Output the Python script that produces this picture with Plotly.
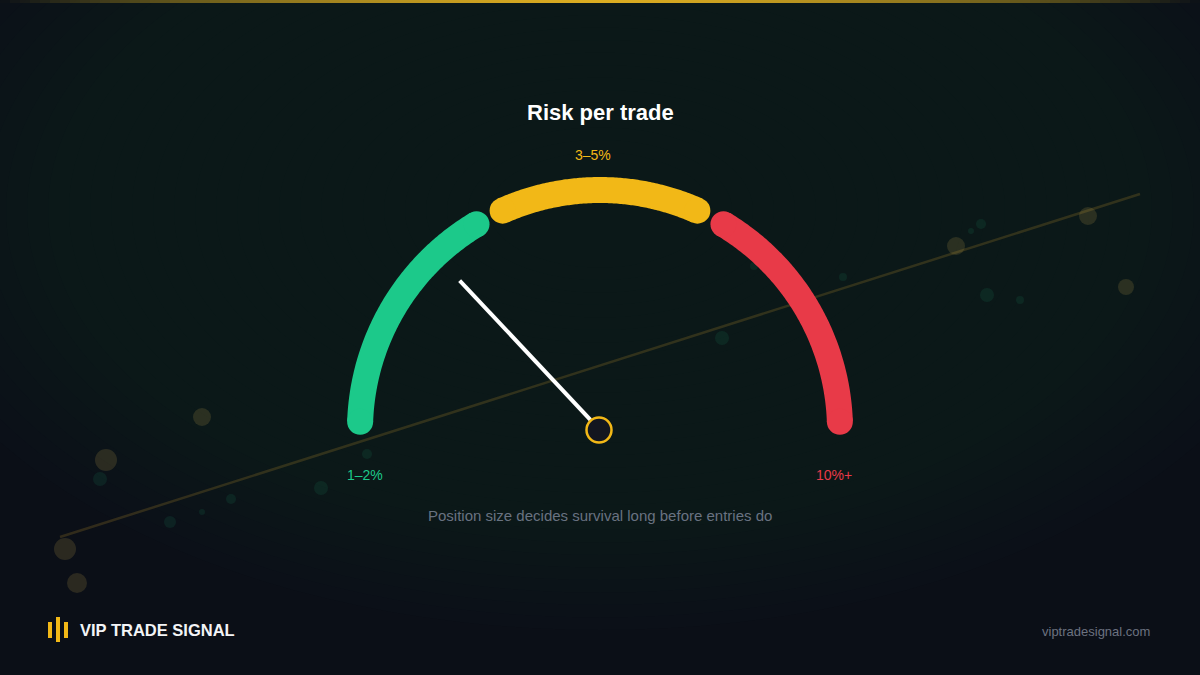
import numpy as np
import plotly.graph_objects as go

# gauge scale 0..100 (left -> right)
segment_labels = ["1–2%", "3–5%", "10%+"]
segment_start = [1.1, 36.7, 67.2]
segment_end = [32.8, 63.3, 98.9]
segment_colors = ["#1cc98a", "#f2b817", "#e83a48"]
needle_value = 26.0

title_text = "Risk per trade"
subtitle_text = "Position size decides survival long before entries do"
brand_text = "VIP TRADE SIGNAL"
url_text = "viptradesignal.com"

# faint decorative background trend + dots
trend_x = [60, 1140]
trend_y = [537, 194]
gold_dot_x = [65, 77, 106, 202, 956, 1088, 1126]
gold_dot_y = [549, 583, 460, 417, 246, 216, 287]
gold_dot_r = [11, 10, 11, 9, 9, 9, 8]
green_dot_x = [100, 170, 202, 231, 321, 367, 722, 754, 843, 971, 981, 987, 1020]
green_dot_y = [479, 522, 512, 499, 488, 454, 338, 266, 277, 231, 224, 295, 300]
green_dot_r = [7, 6, 3, 5, 7, 5, 7, 4, 4, 3, 5, 7, 4]

W, H = 1200, 675
cx, cy, R = 600, 430, 240
arc_w = 26


def to_angle(v):
    return np.radians(180 - v * 1.8)


def arc_xy(v0, v1, r=R, n=120):
    a = np.linspace(to_angle(v0), to_angle(v1), n)
    return cx + r * np.cos(a), cy - r * np.sin(a)


fig = go.Figure()

# background glow
shapes = []
for i in range(30):
    rx = 720 - i * 21
    ry = 420 - i * 12.5
    shapes.append(dict(type="circle", xref="x", yref="y", layer="below",
                       x0=600 - rx, x1=600 + rx, y0=210 - ry, y1=210 + ry,
                       fillcolor="rgba(14,48,38,0.042)", line_width=0))
# top gold rule
for xs in range(0, W, 10):
    d = abs(xs + 5 - W / 2) / (W / 2)
    shapes.append(dict(type="rect", xref="x", yref="y", layer="below",
                       x0=xs, x1=xs + 10, y0=0, y1=3,
                       fillcolor="#e6b422", opacity=max(0.0, 1 - d ** 1.6) * 0.95,
                       line_width=0))

fig.add_trace(go.Scatter(x=trend_x, y=trend_y, mode="lines",
                         line=dict(color="rgba(150,120,40,0.28)", width=2.5),
                         hoverinfo="skip"))
fig.add_trace(go.Scatter(x=gold_dot_x, y=gold_dot_y, mode="markers",
                         marker=dict(size=[r * 2 for r in gold_dot_r],
                                     color="rgba(190,160,80,0.26)", line_width=0),
                         hoverinfo="skip"))
fig.add_trace(go.Scatter(x=green_dot_x, y=green_dot_y, mode="markers",
                         marker=dict(size=[r * 2 for r in green_dot_r],
                                     color="rgba(30,140,100,0.2)", line_width=0),
                         hoverinfo="skip"))

# gauge segments with round caps
for s, e, c in zip(segment_start, segment_end, segment_colors):
    x, y = arc_xy(s, e)
    fig.add_trace(go.Scatter(x=x, y=y, mode="lines",
                             line=dict(color=c, width=arc_w, simplify=False),
                             hoverinfo="skip"))
    fig.add_trace(go.Scatter(x=[x[0], x[-1]], y=[y[0], y[-1]], mode="markers",
                             marker=dict(size=arc_w, color=c, line_width=0),
                             hoverinfo="skip"))

# needle
na = to_angle(needle_value)
nx = [cx + 14 * np.cos(na), cx + 205 * np.cos(na)]
ny = [cy - 14 * np.sin(na), cy - 205 * np.sin(na)]
fig.add_trace(go.Scatter(x=nx, y=ny, mode="lines", line=dict(color="#ffffff", width=4),
                         hoverinfo="skip"))
fig.add_trace(go.Scatter(x=[cx - 1], y=[cy], mode="markers",
                         marker=dict(size=25, color="#13161f",
                                     line=dict(color="#f2b817", width=2.5)),
                         hoverinfo="skip"))

# logo bars
fig.add_trace(go.Scatter(x=[50, 50, None, 58, 58, None, 66, 66],
                         y=[622, 638, None, 617, 642, None, 622, 638],
                         mode="lines", line=dict(color="#f2b817", width=4),
                         hoverinfo="skip"))

font = "Liberation Sans, Arial, sans-serif"
ann = [
    dict(x=600, y=112, text="<b>" + title_text + "</b>", font=dict(size=22, color="#ffffff")),
    dict(x=593, y=155, text=segment_labels[1], font=dict(size=14, color=segment_colors[1])),
    dict(x=365, y=475, text=segment_labels[0], font=dict(size=14, color=segment_colors[0])),
    dict(x=834, y=475, text=segment_labels[2], font=dict(size=14, color=segment_colors[2])),
    dict(x=600, y=515, text=subtitle_text, font=dict(size=15, color="#697281")),
    dict(x=78, y=630, text="<b>" + brand_text + "</b>", xanchor="left",
         font=dict(size=16.5, color="#f3f4f6")),
    dict(x=1152, y=631, text=url_text, xanchor="right", font=dict(size=13, color="#6b7280")),
]
for a in ann:
    a.setdefault("xanchor", "center")
    a["font"]["family"] = font
    fig.add_annotation(xref="x", yref="y", showarrow=False, yanchor="middle", **a)

fig.update_layout(
    width=W, height=H, margin=dict(l=0, r=0, t=0, b=0),
    paper_bgcolor="#0b0f17", plot_bgcolor="#0b0f17",
    showlegend=False, shapes=shapes,
    xaxis=dict(range=[0, W], visible=False, fixedrange=True),
    yaxis=dict(range=[H, 0], visible=False, fixedrange=True),
)
fig.write_html("out.html", config={"displayModeBar": False},
               post_script="document.body.style.margin='0';"
                           "document.body.style.background='#0b0f17';")
